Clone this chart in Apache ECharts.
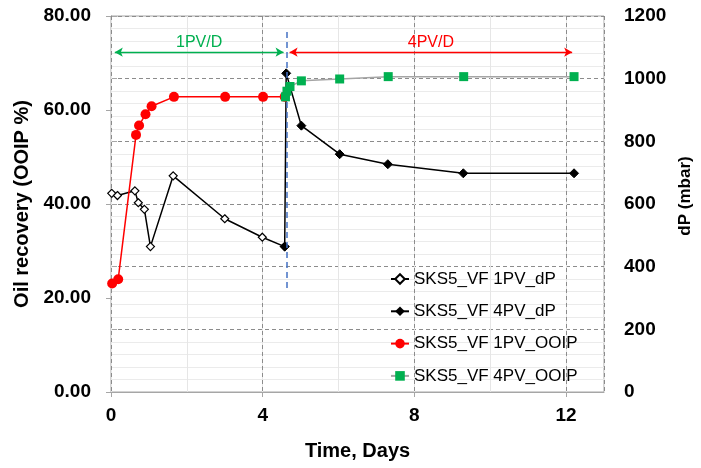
<!DOCTYPE html>
<html>
<head>
<meta charset="utf-8">
<script src="https://cdn.jsdelivr.net/npm/echarts@6/dist/echarts.min.js"></script>
<style>html,body{margin:0;padding:0;background:#fff}#c{width:701px;height:468px}</style>
</head>
<body>
<div id="c"></div>
<script>
// ---- data ----
const seriesNames = ['SKS5_VF 1PV_dP', 'SKS5_VF 4PV_dP', 'SKS5_VF 1PV_OOIP', 'SKS5_VF 4PV_OOIP'];
// 1PV dP (mbar, right axis)
const td1 = [0.02, 0.17, 0.63, 0.72, 0.88, 1.04, 1.64, 3.00, 3.99, 4.58];
const dp1 = [634, 627, 642, 604, 583, 464, 690, 553, 494, 464];
// 4PV dP (mbar, right axis)
const td4 = [4.58, 4.62, 5.02, 6.03, 7.30, 9.29, 12.21];
const dp4 = [464, 1017, 850, 759, 727, 698, 698];
// 1PV OOIP (%, left axis)
const to1 = [0.03, 0.19, 0.66, 0.74, 0.91, 1.07, 1.66, 3.01, 4.01, 4.58];
const oo1 = [23.1, 24.0, 54.7, 56.7, 59.1, 60.8, 62.8, 62.8, 62.8, 62.8];
// 4PV OOIP (%, left axis)
const to4 = [4.60, 4.64, 4.72, 5.02, 6.03, 7.31, 9.30, 12.21];
const oo4 = [62.8, 64.0, 65.0, 66.2, 66.6, 67.1, 67.1, 67.1];
// annotations
const switchTime = 4.63;          // blue dashed line (days)
const switchRange = [76.6, 21.7]; // its extent on the left axis
const arrowLevel = 72.3;          // left-axis level of the arrows
const arrow1 = [0.1, 4.55];
const arrow4 = [4.71, 12.16];
const phaseLabels = ['1PV/D', '4PV/D'];
const xTicks = [0, 13, 4];
const yLeftTicks = [0, 80, 20];
const yRightTicks = [0, 1200, 200];

const zip = (a, b) => a.map((v, i) => [v, b[i]]);
const FONT = '"Liberation Sans", Arial, sans-serif';
const axisGray = '#A6A6A6';

const chart = echarts.init(document.getElementById('c'), null, {renderer: 'canvas'});
chart.setOption({
  animation: false,
  textStyle: {fontFamily: FONT},
  grid: {left: 111, right: 97, top: 16, bottom: 76, show: true, borderColor: axisGray, borderWidth: 1,
    containLabel: false, outerBoundsMode: 'none'},
  legend: {
    orient: 'vertical', left: 390, top: 269, padding: 0,
    itemWidth: 18, itemHeight: 12, itemGap: 12.3,
    textStyle: {fontFamily: FONT, fontSize: 17, color: '#000', lineHeight: 20},
    data: seriesNames
  },
  xAxis: [{
    type: 'value', min: xTicks[0], max: xTicks[1], interval: xTicks[2],
    name: 'Time, Days', nameLocation: 'middle', nameGap: 49,
    nameTextStyle: {fontFamily: FONT, fontSize: 20, fontWeight: 'bold', color: '#000'},
    axisLine: {show: true, lineStyle: {color: axisGray}},
    axisTick: {show: true, length: 5, lineStyle: {color: axisGray}},
    axisLabel: {fontFamily: FONT, fontSize: 19, fontWeight: 'bold', color: '#000', margin: 14, showMaxLabel: false},
    splitLine: {show: true, lineStyle: {color: '#8C8C8C', type: [4, 3], width: 1}},
    z: 3
  }, {
    type: 'value', min: xTicks[0], max: xTicks[1], interval: xTicks[2] / 2,
    position: 'bottom',
    axisLine: {show: false}, axisTick: {show: false}, axisLabel: {show: false},
    splitLine: {show: true, lineStyle: {color: '#E6E6E6', width: 1}},
    z: 1
  }],
  yAxis: [{
    type: 'value', min: yLeftTicks[0], max: yLeftTicks[1], interval: yLeftTicks[2],
    name: 'Oil recovery (OOIP %)', nameLocation: 'middle', nameGap: 71, nameRotate: 90,
    nameTextStyle: {fontFamily: FONT, fontSize: 20, fontWeight: 'bold', color: '#000'},
    axisLine: {show: true, lineStyle: {color: axisGray}},
    axisTick: {show: true, length: 5, lineStyle: {color: axisGray}},
    axisLabel: {fontFamily: FONT, fontSize: 19, fontWeight: 'bold', color: '#000', margin: 20,
      formatter: v => v.toFixed(2)},
    splitLine: {show: false}
  }, {
    type: 'value', min: yRightTicks[0], max: yRightTicks[1], interval: yRightTicks[2],
    position: 'right',
    name: 'dP (mbar)', nameLocation: 'middle', nameGap: 69, nameRotate: 90,
    nameTextStyle: {fontFamily: FONT, fontSize: 17, fontWeight: 'bold', color: '#000', padding: [0, 0, 0, 16]},
    axisLine: {show: true, lineStyle: {color: axisGray}},
    axisTick: {show: true, length: 6, lineStyle: {color: axisGray}},
    axisLabel: {fontFamily: FONT, fontSize: 19, fontWeight: 'bold', color: '#000', margin: 20,
      formatter: v => String(v)},
    splitLine: {show: true, lineStyle: {color: '#8C8C8C', type: [4, 3], width: 1}},
    minorTick: {show: false, splitNumber: 5},
    minorSplitLine: {show: true, lineStyle: {color: '#EBEBEB', width: 1}}
  }],
  series: [{
    name: seriesNames[0], type: 'line', xAxisIndex: 0, yAxisIndex: 1,
    data: zip(td1, dp1),
    symbol: 'diamond', symbolSize: 8,
    lineStyle: {color: '#000', width: 1.5},
    itemStyle: {color: '#fff', borderColor: '#000', borderWidth: 1.2},
    z: 3
  }, {
    name: seriesNames[1], type: 'line', xAxisIndex: 0, yAxisIndex: 1,
    data: zip(td4, dp4),
    symbol: 'diamond', symbolSize: 9,
    lineStyle: {color: '#000', width: 1.5},
    itemStyle: {color: '#000', borderColor: '#000'},
    z: 4
  }, {
    name: seriesNames[2], type: 'line', xAxisIndex: 0, yAxisIndex: 0,
    data: zip(to1, oo1),
    symbol: 'circle', symbolSize: 10,
    lineStyle: {color: '#FF0000', width: 1.5},
    itemStyle: {color: '#FF0000'},
    z: 5,
    markLine: {
      silent: true, animation: false, precision: 4,
      data: [
        [{coord: [switchTime, switchRange[0]], symbol: 'none',
          lineStyle: {color: '#4472C4', type: [6, 4], width: 1.5}, label: {show: false}},
         {coord: [switchTime, switchRange[1]], symbol: 'none'}],
        [{coord: [arrow1[0], arrowLevel], symbol: 'arrow', symbolSize: [7, 8],
          lineStyle: {color: '#00B050', type: 'solid', width: 1.3},
          label: {show: true, position: 'insideMiddleTop', distance: 2, formatter: phaseLabels[0],
            color: '#00B050', fontSize: 16, fontFamily: FONT}},
         {coord: [arrow1[1], arrowLevel], symbol: 'arrow', symbolSize: [7, 8]}],
        [{coord: [arrow4[0], arrowLevel], symbol: 'arrow', symbolSize: [7, 8],
          lineStyle: {color: '#FF0000', type: 'solid', width: 1.3},
          label: {show: true, position: 'insideMiddleTop', distance: 2, formatter: phaseLabels[1],
            color: '#FF0000', fontSize: 16, fontFamily: FONT}},
         {coord: [arrow4[1], arrowLevel], symbol: 'arrow', symbolSize: [7, 8]}]
      ]
    }
  }, {
    name: seriesNames[3], type: 'line', xAxisIndex: 0, yAxisIndex: 0,
    data: zip(to4, oo4),
    symbol: 'rect', symbolSize: 9,
    lineStyle: {color: '#A5A5A5', width: 1.5},
    itemStyle: {color: '#00B050'},
    z: 6
  }]
});
</script>
</body>
</html>
